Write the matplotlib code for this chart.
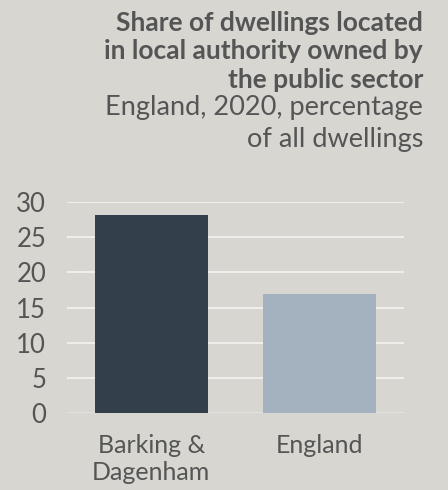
import matplotlib
matplotlib.use("Agg")
import matplotlib.pyplot as plt

# Data
categories = ["Barking &\nDagenham", "England"]
values = [28.2, 16.9]
bar_colors = ["#333f4a", "#a3b2be"]
y_ticks = [0, 5, 10, 15, 20, 25, 30]

title_lines = "Share of dwellings located\nin local authority owned by\nthe public sector"
subtitle_lines = "England, 2020, percentage\nof all dwellings"

BG = "#d7d6d1"
TEXT = "#555555"

plt.rcParams["font.family"] = ["Lato", "DejaVu Sans"]

fig = plt.figure(figsize=(4.48, 4.90), dpi=100, facecolor=BG)
# axes in pixel coords: left 67, right 404, top 202 (y=30), bottom 413 (y=0)
W, H = 448, 490
ax = fig.add_axes([67 / W, 1 - 413 / H, (404 - 67) / W, (413 - 202) / H])
ax.set_facecolor(BG)

x = range(len(categories))
ax.bar(x, values, width=0.67, color=bar_colors, zorder=3)

ax.set_xlim(-0.5, 1.5)
ax.set_ylim(0, 30)
ax.set_yticks(y_ticks)
for t in y_ticks[1:]:
    ax.axhline(t, color="#f0efec", linewidth=1.4, zorder=1)
ax.axhline(0, color="#e4e3e0", linewidth=1.4, zorder=2)

ax.set_xticks(list(x))
ax.set_xticklabels(categories, fontsize=18, color=TEXT, linespacing=1.2)
ax.tick_params(axis="y", labelsize=18.5, labelcolor=TEXT, length=0, pad=15)
ax.tick_params(axis="x", length=0, pad=15)
for s in ax.spines.values():
    s.set_visible(False)

fig.text(423 / W, 1 - 11 / H, title_lines, ha="right", va="top", fontsize=19,
         fontweight="bold", color=TEXT, linespacing=1.22)
fig.text(423 / W, 1 - 95 / H, subtitle_lines, ha="right", va="top", fontsize=19.5,
         color=TEXT, linespacing=1.35)

fig.savefig("out.png", dpi=100, facecolor=BG)
